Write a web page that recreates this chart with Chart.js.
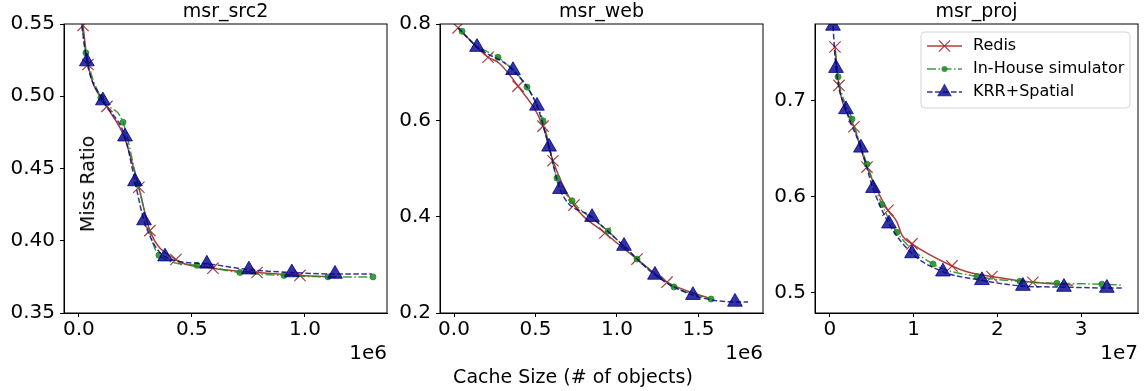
<!DOCTYPE html>
<html>
<head>
<meta charset="utf-8">
<script src="https://cdn.jsdelivr.net/npm/chart.js@4/dist/chart.umd.min.js"></script>
<style>
  body { margin: 0; background: #fff; }
  #wrap { position: relative; width: 1147px; height: 391px; overflow: hidden; font-family: 'DejaVu Sans', sans-serif; }
  canvas { position: absolute; top: 0; }
  .lbl { position: absolute; color: #000; white-space: nowrap; font-size: 19px; }
</style>
</head>
<body>
<div id="wrap">
  <canvas id="c1" width="390" height="391" style="left:0px"></canvas>
  <canvas id="c2" width="375" height="391" style="left:390px"></canvas>
  <canvas id="c3" width="382" height="391" style="left:765px"></canvas>
  <div class="lbl" style="left:87px; top:184px; transform: translate(-50%,-50%) rotate(-90deg);">Miss Ratio</div>
  <div class="lbl" style="left:573px; top:376px; transform: translate(-50%,-50%);">Cache Size (# of objects)</div>
</div>
<script>
const FONT = "'DejaVu Sans', sans-serif";
const seriesNames = ['Redis', 'In-House simulator', 'KRR+Spatial'];

// msr_src2 (x in 1e6 objects)
const src2RedisX = [0.018, 0.040, 0.124, 0.200, 0.265, 0.314, 0.429, 0.593, 0.788, 0.978, 1.140];
const src2RedisY = [0.549, 0.522, 0.493, 0.472, 0.437, 0.407, 0.387, 0.381, 0.378, 0.376, 0.375];
const src2RedisM = [1, 1, 1, 0, 1, 1, 1, 1, 1, 1, 0];
const src2SimX = [0.013, 0.031, 0.097, 0.195, 0.261, 0.354, 0.522, 0.712, 0.907, 1.102, 1.301];
const src2SimY = [0.549, 0.530, 0.499, 0.482, 0.439, 0.390, 0.383, 0.378, 0.376, 0.375, 0.375];
const src2SimM = [0, 1, 1, 1, 1, 1, 1, 1, 1, 1, 1];
const src2KrrX = [0.013, 0.035, 0.106, 0.204, 0.248, 0.288, 0.381, 0.566, 0.752, 0.942, 1.133, 1.296];
const src2KrrY = [0.549, 0.524, 0.497, 0.472, 0.441, 0.414, 0.389, 0.384, 0.380, 0.378, 0.377, 0.377];
const src2KrrM = [0, 1, 1, 1, 1, 1, 1, 1, 1, 1, 1, 0];
const src2XTicks = [0, 0.5, 1.0];
const src2YTicks = [0.35, 0.40, 0.45, 0.50, 0.55];

// msr_web (x in 1e6 objects)
const webRedisX = [0.025, 0.209, 0.276, 0.393, 0.546, 0.607, 0.736, 0.926, 1.123, 1.307, 1.577];
const webRedisY = [0.792, 0.731, 0.719, 0.671, 0.588, 0.516, 0.424, 0.366, 0.312, 0.264, 0.229];
const webRedisM = [1, 1, 0, 1, 1, 1, 1, 1, 1, 1, 0];
const webSimX = [0.025, 0.049, 0.141, 0.270, 0.448, 0.546, 0.632, 0.724, 0.945, 1.123, 1.350, 1.577];
const webSimY = [0.792, 0.785, 0.754, 0.731, 0.669, 0.599, 0.480, 0.433, 0.370, 0.312, 0.254, 0.229];
const webSimM = [0, 1, 0, 1, 1, 1, 1, 1, 1, 1, 1, 1];
const webKrrX = [0.025, 0.141, 0.362, 0.509, 0.583, 0.650, 0.847, 1.043, 1.233, 1.466, 1.724, 1.804];
const webKrrY = [0.792, 0.752, 0.704, 0.630, 0.545, 0.457, 0.399, 0.339, 0.279, 0.237, 0.223, 0.223];
const webKrrM = [0, 1, 1, 1, 1, 1, 1, 1, 1, 1, 1, 0];
const webXTicks = [0, 0.5, 1.0, 1.5];
const webYTicks = [0.2, 0.4, 0.6, 0.8];

// msr_proj (x in 1e7 objects)
const projRedisX = [0.060, 0.108, 0.287, 0.442, 0.693, 0.800, 0.860, 0.980, 1.458, 1.637, 1.935, 2.425, 2.903];
const projRedisY = [0.756, 0.716, 0.673, 0.631, 0.586, 0.574, 0.560, 0.551, 0.528, 0.522, 0.517, 0.511, 0.508];
const projRedisM = [1, 1, 1, 1, 1, 0, 0, 1, 1, 0, 1, 1, 0];
const projSimX = [0.060, 0.096, 0.263, 0.442, 0.621, 0.800, 1.231, 1.756, 2.270, 2.712, 3.250, 3.500];
const projSimY = [0.752, 0.725, 0.681, 0.634, 0.592, 0.563, 0.530, 0.517, 0.512, 0.510, 0.509, 0.508];
const projSimM = [0, 1, 1, 1, 1, 1, 1, 1, 1, 1, 1, 0];
const projKrrX = [0.036, 0.072, 0.191, 0.370, 0.514, 0.705, 0.980, 1.350, 1.816, 2.306, 2.796, 3.309, 3.500];
const projKrrY = [0.778, 0.734, 0.691, 0.651, 0.609, 0.572, 0.541, 0.522, 0.513, 0.507, 0.506, 0.505, 0.505];
const projKrrM = [1, 1, 1, 1, 1, 1, 1, 1, 1, 1, 1, 1, 0];
const projXTicks = [0, 1, 2, 3];
const projYTicks = [0.5, 0.6, 0.7];

// styles for the 3 series
const styles = [
    { color: 'rgba(165,42,42,0.9)', dash: [], point: 'crossRot', r: 8, order: 3 },
    { color: 'rgba(34,139,34,0.85)', dash: [9, 2.5, 1.5, 2.5], point: 'circle', r: 3, order: 2 },
    { color: 'rgba(0,0,139,0.8)', dash: [5.5, 2.5], point: 'triangle', r: 8.5, order: 1 }
];

function mkSet(i, xs, ys, marks) {
    var s = styles[i];
    return {
        label: seriesNames[i],
        data: xs.map((x, k) => ({ x: x, y: ys[k] })),
        borderColor: s.color,
        backgroundColor: s.color,
        borderWidth: 1.5,
        borderDash: s.dash,
        pointStyle: s.point,
        pointRadius: marks.map(m => m ? s.r : 0),
        pointBorderColor: s.color,
        pointBackgroundColor: s.color,
        pointBorderWidth: s.point == 'crossRot' ? 1.2 : 1,
        cubicInterpolationMode: 'monotone',
        order: s.order,
        fill: false
    };
}

// frame around plot area (matplotlib style box)
const framePlugin = {
    id: 'frame',
    afterDraw(chart) {
        const a = chart.chartArea, ctx = chart.ctx;
        ctx.save();
        ctx.strokeStyle = '#000';
        ctx.lineWidth = 1;
        ctx.strokeRect(a.left, a.top, a.right - a.left, a.bottom - a.top);
        ctx.restore();
    }
};

function marker(ctx, s, x, y) {
    ctx.save();
    ctx.strokeStyle = s.color; ctx.fillStyle = s.color; ctx.setLineDash([]);
    ctx.beginPath();
    if (s.point == 'crossRot') {
        var o = s.r * 0.707;
        ctx.lineWidth = 1.2;
        ctx.moveTo(x - o, y - o); ctx.lineTo(x + o, y + o);
        ctx.moveTo(x - o, y + o); ctx.lineTo(x + o, y - o);
        ctx.stroke();
    } else if (s.point == 'circle') {
        ctx.arc(x, y, s.r, 0, Math.PI * 2); ctx.fill();
    } else {
        ctx.moveTo(x, y - s.r);
        ctx.lineTo(x - s.r * 0.866, y + s.r * 0.5);
        ctx.lineTo(x + s.r * 0.866, y + s.r * 0.5);
        ctx.closePath(); ctx.fill();
    }
    ctx.restore();
}

// legend inside msr_proj panel
const legendPlugin = {
    id: 'boxLegend',
    afterDraw(chart) {
        const ctx = chart.ctx;
        const bx = 156, by = 32, bw = 209, bh = 76, rad = 4;
        ctx.save();
        ctx.beginPath();
        ctx.moveTo(bx + rad, by);
        ctx.arcTo(bx + bw, by, bx + bw, by + bh, rad);
        ctx.arcTo(bx + bw, by + bh, bx, by + bh, rad);
        ctx.arcTo(bx, by + bh, bx, by, rad);
        ctx.arcTo(bx, by, bx + bw, by, rad);
        ctx.closePath();
        ctx.fillStyle = 'rgba(255,255,255,0.8)';
        ctx.fill();
        ctx.strokeStyle = '#d5d5d5';
        ctx.lineWidth = 1;
        ctx.stroke();
        const rows = [46, 69, 92];
        for (var i = 0; i < 3; i++) {
            var s = styles[i], y = rows[i];
            ctx.strokeStyle = s.color;
            ctx.lineWidth = 1.5;
            ctx.setLineDash(s.dash);
            ctx.beginPath(); ctx.moveTo(162, y); ctx.lineTo(197, y); ctx.stroke();
            ctx.setLineDash([]);
            marker(ctx, s, 179.5, y);
            ctx.fillStyle = '#000';
            ctx.font = '16px ' + FONT;
            ctx.textBaseline = 'middle';
            ctx.textAlign = 'left';
            ctx.fillText(seriesNames[i], 208, y);
        }
        ctx.restore();
    }
};

function makePanel(id, title, sets, p) {
    new Chart(document.getElementById(id), {
        type: 'line',
        data: { datasets: sets },
        plugins: p.legend ? [framePlugin, legendPlugin] : [framePlugin],
        options: {
            responsive: false,
            animation: false,
            layout: { autoPadding: false, padding: { left: 0, right: p.padRight, top: 0, bottom: 0 } },
            plugins: {
                legend: { display: false },
                tooltip: { enabled: false },
                title: {
                    display: true, text: title, color: '#000', fullSize: false,
                    font: { family: FONT, size: 19, weight: 'normal' },
                    padding: { top: 1, bottom: 0.2 }
                }
            },
            scales: {
                x: {
                    type: 'linear', min: p.xMin, max: p.xMax,
                    afterBuildTicks: (sc) => { sc.ticks = p.xTicks.map(v => ({ value: v })); },
                    afterFit: (sc) => { sc.height = 78; },
                    ticks: {
                        color: '#000', padding: 1, maxRotation: 0,
                        font: { family: FONT, size: 20 },
                        callback: (v) => v.toFixed(p.xDec)
                    },
                    grid: { drawOnChartArea: false, drawTicks: true, tickLength: 4, color: '#000' },
                    border: { display: true, color: '#000' },
                    title: {
                        display: true, text: p.xExp, align: 'end', color: '#000',
                        font: { family: FONT, size: 20 },
                        padding: { top: 0, bottom: 25 }
                    }
                },
                y: {
                    min: p.yMin, max: p.yMax,
                    afterBuildTicks: (sc) => { sc.ticks = p.yTicks.map(v => ({ value: v })); },
                    afterFit: (sc) => { sc.width = p.yWidth; },
                    ticks: {
                        color: '#000', padding: 5,
                        font: { family: FONT, size: 20 },
                        callback: (v) => v.toFixed(p.yDec)
                    },
                    grid: { drawOnChartArea: false, drawTicks: true, tickLength: 4, color: '#000' },
                    border: { display: true, color: '#000' }
                }
            }
        }
    });
}

makePanel('c1', 'msr_src2', [
    mkSet(0, src2RedisX, src2RedisY, src2RedisM),
    mkSet(1, src2SimX, src2SimY, src2SimM),
    mkSet(2, src2KrrX, src2KrrY, src2KrrM)
], { xMin: -0.066, xMax: 1.363, yMin: 0.35, yMax: 0.55, xTicks: src2XTicks, yTicks: src2YTicks,
     xDec: 1, yDec: 2, xExp: '1e6', yWidth: 64, padRight: 3 });

makePanel('c2', 'msr_web', [
    mkSet(0, webRedisX, webRedisY, webRedisM),
    mkSet(1, webSimX, webSimY, webSimM),
    mkSet(2, webKrrX, webKrrY, webKrrM)
], { xMin: -0.086, xMax: 1.896, yMin: 0.2, yMax: 0.8, xTicks: webXTicks, yTicks: webYTicks,
     xDec: 1, yDec: 1, xExp: '1e6', yWidth: 50, padRight: 2 });

makePanel('c3', 'msr_proj', [
    mkSet(0, projRedisX, projRedisY, projRedisM),
    mkSet(1, projSimX, projSimY, projSimM),
    mkSet(2, projKrrX, projKrrY, projKrrM)
], { xMin: -0.179, xMax: 3.681, yMin: 0.479, yMax: 0.780, xTicks: projXTicks, yTicks: projYTicks,
     xDec: 0, yDec: 1, xExp: '1e7', yWidth: 50, padRight: 9, legend: true });
</script>
</body>
</html>
